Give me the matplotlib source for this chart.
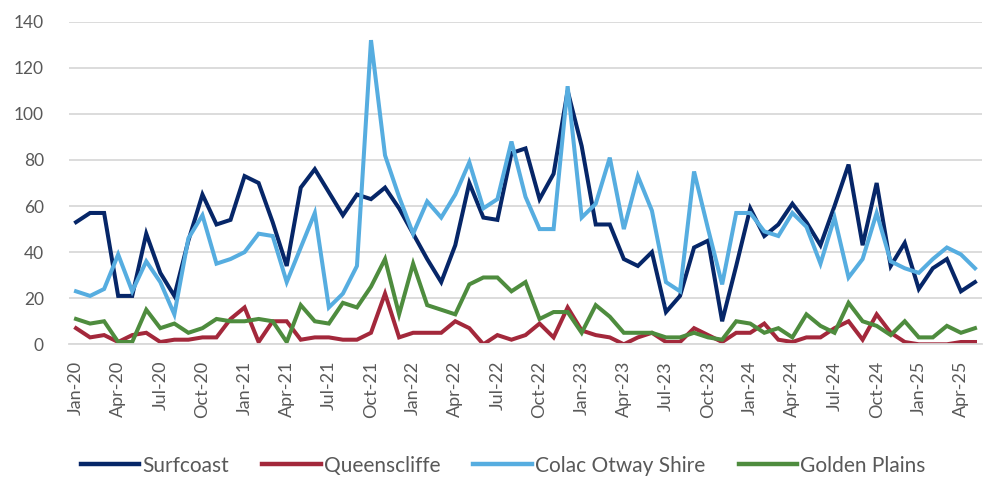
import matplotlib
matplotlib.use("Agg")
import matplotlib.pyplot as plt
import numpy as np

months = ["Jan", "Feb", "Mar", "Apr", "May", "Jun", "Jul", "Aug", "Sep", "Oct", "Nov", "Dec"]
categories = [f"{months[m]}-{y:02d}" for y in range(20, 26) for m in range(12)][:65]

surfcoast = [53, 57, 57, 21, 21, 48, 31, 21, 45, 65, 52, 54, 73, 70, 53, 34, 68, 76, 66, 56,
             65, 63, 68, 59, 48, 37, 27, 43, 70, 55, 54, 83, 85, 63, 74, 110, 86, 52, 52, 37,
             34, 40, 14, 21, 42, 45, 10, 34, 59, 47, 52, 61, 53, 43, 60, 78, 43, 70, 34, 44,
             24, 33, 37, 23, 27]
queenscliffe = [7, 3, 4, 1, 4, 5, 1, 2, 2, 3, 3, 11, 16, 1, 10, 10, 2, 3, 3, 2,
                2, 5, 22, 3, 5, 5, 5, 10, 7, 0, 4, 2, 4, 9, 3, 16, 6, 4, 3, 0,
                3, 5, 1, 1, 7, 4, 1, 5, 5, 9, 2, 1, 3, 3, 7, 10, 2, 13, 5, 1,
                0, 0, 0, 1, 1]
colac_otway = [23, 21, 24, 39, 23, 36, 27, 13, 46, 56, 35, 37, 40, 48, 47, 27, 42, 57, 16, 22,
               34, 132, 82, 64, 48, 62, 55, 65, 79, 59, 63, 88, 64, 50, 50, 112, 55, 61, 81, 50,
               73, 58, 27, 23, 75, 50, 26, 57, 57, 49, 47, 57, 51, 35, 55, 29, 37, 57, 36, 33,
               31, 37, 42, 39, 33]
golden_plains = [11, 9, 10, 1, 1, 15, 7, 9, 5, 7, 11, 10, 10, 11, 10, 1, 17, 10, 9, 18,
                 16, 25, 37, 13, 35, 17, 15, 13, 26, 29, 29, 23, 27, 11, 14, 14, 5, 17, 12, 5,
                 5, 5, 3, 3, 5, 3, 2, 10, 9, 5, 7, 3, 13, 8, 5, 18, 10, 8, 4, 10,
                 3, 3, 8, 5, 7]

series = [
    ("Surfcoast", surfcoast, "#062668"),
    ("Queenscliffe", queenscliffe, "#A3283B"),
    ("Colac Otway Shire", colac_otway, "#56ADE0"),
    ("Golden Plains", golden_plains, "#4E8C3E"),
]

plt.rcParams["font.family"] = ["Lato", "DejaVu Sans"]

fig = plt.figure(figsize=(10, 4.79), dpi=100)
ax = fig.add_axes([0.069, 0.2812, 0.913, 0.6735])

x = np.arange(len(categories))
for name, vals, col in series:
    ax.plot(x, vals, color=col, lw=2.9, label=name, solid_joinstyle="miter")

ax.set_xlim(-0.5, len(categories) - 0.5)
ax.set_ylim(0, 140)
ax.set_yticks(range(0, 141, 20))
ax.yaxis.grid(True, color="#D9D9D9", lw=1.3)
ax.set_axisbelow(True)
for s in ["top", "right", "left"]:
    ax.spines[s].set_visible(False)
ax.spines["bottom"].set_color("#D9D9D9")
ax.spines["bottom"].set_linewidth(1.3)

tick_pos = x[::3]
ax.set_xticks(tick_pos)
ax.set_xticklabels([categories[i] for i in tick_pos], rotation=90, fontsize=13, color="#595959")
ax.tick_params(axis="x", length=0, pad=12)
ax.tick_params(axis="y", length=0, pad=18, labelsize=12.5, labelcolor="#595959")

leg = fig.legend(loc="center", bbox_to_anchor=(0.503, 0.028), ncol=4, frameon=False,
                 fontsize=15, handlelength=2.8, handletextpad=0.15, columnspacing=1.6)
for line in leg.get_lines():
    line.set_linewidth(3.2)
for t in leg.get_texts():
    t.set_color("#595959")

fig.savefig("out.png", dpi=100)
